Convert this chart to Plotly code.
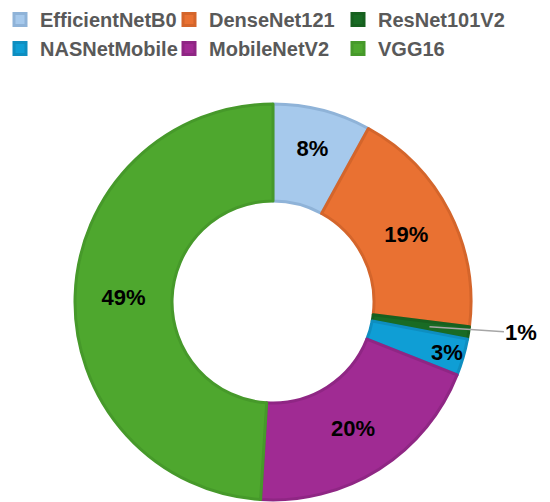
import math
import plotly.graph_objects as go

models = ["EfficientNetB0", "DenseNet121", "ResNet101V2", "NASNetMobile", "MobileNetV2", "VGG16"]
shares = [8, 19, 1, 3, 20, 49]
fill_colors = ["#a6c9ec", "#e97132", "#196b24", "#0f9ed5", "#a02b93", "#4ea72e"]
edge_colors = ["#8fb3d8", "#d4652b", "#17601f", "#0e8ec0", "#8f2684", "#46992a"]
# slice whose label is drawn outside with a leader line
outside_idx = 2

W, H = 550, 502
CX, CY, R = 273, 302, 198  # pie centre / radius in pixels

labels_tpl = ["%{percent}" if i != outside_idx else "" for i in range(len(shares))]

fig = go.Figure(go.Pie(
    labels=models,
    values=shares,
    sort=False,
    direction="clockwise",
    rotation=0,
    hole=0.51,
    texttemplate=labels_tpl,
    textposition="inside",
    insidetextorientation="horizontal",
    textfont=dict(family="Liberation Sans", size=22, color="#000000", weight="bold"),
    marker=dict(colors=fill_colors, line=dict(color=edge_colors, width=3)),
    domain=dict(x=[(CX - R) / W, (CX + R) / W], y=[1 - (CY + R) / H, 1 - (CY - R) / H]),
    automargin=False,
    hoverinfo="label+percent",
))

# leader line + label for the thin slice, located from the data
total = sum(shares)
mid_frac = (sum(shares[:outside_idx]) + shares[outside_idx] / 2) / total
theta = 2 * math.pi * mid_frac
r_in = 0.8 * R
px = CX + r_in * math.sin(theta)
py = CY - r_in * math.cos(theta)
fig.add_annotation(
    x=px / W, y=1 - py / H, xref="paper", yref="paper",
    text=f"{round(100 * shares[outside_idx] / total)}%",
    showarrow=True, arrowhead=0, arrowwidth=1.5, arrowcolor="#a6a6a6",
    ax=92, ay=6, standoff=0,
    font=dict(family="Liberation Sans", size=22, color="#000000", weight="bold"),
)

fig.update_layout(
    width=W,
    height=H,
    margin=dict(l=0, r=0, t=0, b=0, autoexpand=False),
    paper_bgcolor="white",
    plot_bgcolor="white",
    uniformtext=dict(minsize=22, mode="show"),
    showlegend=True,
    legend=dict(
        orientation="h",
        x=0,
        y=1.0,
        xanchor="left",
        yanchor="top",
        entrywidth=124,
        entrywidthmode="pixels",
        font=dict(family="Liberation Sans", size=20, color="#595959", weight="bold"),
        traceorder="normal",
    ),
)

fig.write_html(
    "out.html",
    config={"displayModeBar": False},
    post_script="document.body.style.margin='0';",
)
